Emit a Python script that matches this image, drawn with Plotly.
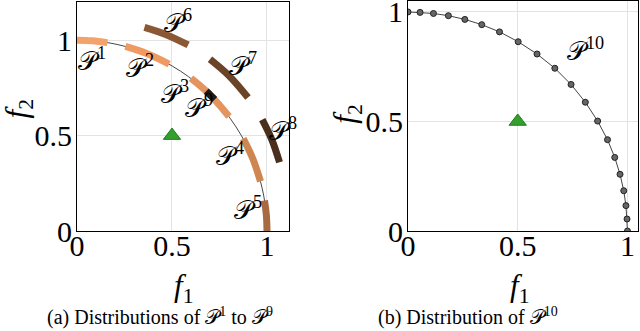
import plotly.graph_objects as go

# uniform points on the true front (panel b), also used as the reference curve
p10_x = [0.0, 0.055, 0.116, 0.184, 0.259, 0.336, 0.417, 0.502, 0.588, 0.669,
         0.743, 0.808, 0.864, 0.909, 0.942, 0.966, 0.983, 0.993, 0.998, 1.0]
p10_y = [1.0, 0.998, 0.993, 0.983, 0.966, 0.942, 0.909, 0.864, 0.808, 0.743,
         0.669, 0.588, 0.502, 0.417, 0.336, 0.259, 0.184, 0.116, 0.055, 0.0]

# distributions P1..P9 (start / middle / end)
seg_names = ['1', '2', '3', '4', '5', '6', '7', '8', '9']
seg_x = [[0.0, 0.08, 0.16], [0.255, 0.37, 0.485], [0.60, 0.70, 0.80],
         [0.875, 0.925, 0.966], [0.987, 0.997, 1.0], [0.355, 0.47, 0.585],
         [0.70, 0.80, 0.90], [0.975, 1.025, 1.066], [0.68, 0.702, 0.725]]
seg_y = [[1.0, 0.997, 0.987], [0.967, 0.929, 0.875], [0.80, 0.714, 0.60],
         [0.484, 0.38, 0.26], [0.16, 0.08, 0.0], [1.067, 1.029, 0.975],
         [0.90, 0.814, 0.70], [0.584, 0.48, 0.36], [0.733, 0.712, 0.689]]
seg_colors = ['#F4A26C', '#EF9A62', '#E4955F', '#CF8650', '#A96A42',
              '#8A5835', '#6B4428', '#4A2F1C', '#1C1C1C']
label_x = [0.08, 0.33, 0.515, 0.805, 0.90, 0.53, 0.875, 1.085, 0.64]
label_y = [0.90, 0.86, 0.725, 0.40, 0.12, 1.10, 0.87, 0.53, 0.65]

ref_point = [0.5, 0.5]
p10_label = [0.81, 0.83]

FONT = 'Liberation Serif, DejaVu Serif, serif'
P = '\U0001D4AB'

fig = go.Figure()

# panel (a)
fig.add_trace(go.Scatter(x=p10_x, y=p10_y, mode='lines', line=dict(color='#333333', width=0.9, shape='spline'),
                         xaxis='x', yaxis='y', showlegend=False))
for i in range(len(seg_names)):
    fig.add_trace(go.Scatter(x=seg_x[i], y=seg_y[i], mode='lines',
                             line=dict(color=seg_colors[i], width=7, shape='spline'),
                             xaxis='x', yaxis='y', showlegend=False))
fig.add_trace(go.Scatter(x=[ref_point[0]], y=[ref_point[1]], mode='markers',
                         marker=dict(symbol='triangle-up', size=15, color='#33a02c', line=dict(color='#1f7a1f', width=1)),
                         xaxis='x', yaxis='y', showlegend=False))

# panel (b)
fig.add_trace(go.Scatter(x=p10_x, y=p10_y, mode='lines+markers',
                         line=dict(color='#444444', width=1),
                         marker=dict(size=6, color='#666666', line=dict(color='#222222', width=1)),
                         xaxis='x2', yaxis='y2', showlegend=False))
fig.add_trace(go.Scatter(x=[ref_point[0]], y=[ref_point[1]], mode='markers',
                         marker=dict(symbol='triangle-up', size=15, color='#33a02c', line=dict(color='#1f7a1f', width=1)),
                         xaxis='x2', yaxis='y2', showlegend=False))

annotations = []
for i in range(len(seg_names)):
    annotations.append(dict(x=label_x[i], y=label_y[i], xref='x', yref='y', showarrow=False,
                            text=P + '<sup>' + seg_names[i] + '</sup>', font=dict(family=FONT, size=26, color='black')))
annotations.append(dict(x=p10_label[0], y=p10_label[1], xref='x2', yref='y2', showarrow=False,
                        text=P + '<sup>10</sup>', font=dict(family=FONT, size=26, color='black')))

# axis titles
title_font = dict(family=FONT, size=31, color='black')
for xc in [0.286, 0.812]:
    annotations.append(dict(x=xc, y=0.13, xref='paper', yref='paper', showarrow=False,
                            xanchor='center', yanchor='middle', text='<i>f</i><sub>1</sub>', font=title_font))
for xc, yc in [(0.03, 0.67), (0.543, 0.655)]:
    annotations.append(dict(x=xc, y=yc, xref='paper', yref='paper', showarrow=False, textangle=-90,
                            xanchor='center', yanchor='middle', text='<i>f</i><sub>2</sub>', font=title_font))

# captions
annotations.append(dict(x=0.25, y=0.045, xref='paper', yref='paper', showarrow=False,
                        xanchor='center', yanchor='middle',
                        text='(a) Distributions of ' + P + '<sup>1</sup> to ' + P + '<sup>9</sup>',
                        font=dict(family=FONT, size=20, color='black')))
annotations.append(dict(x=0.731, y=0.045, xref='paper', yref='paper', showarrow=False,
                        xanchor='center', yanchor='middle',
                        text='(b) Distribution of ' + P + '<sup>10</sup>',
                        font=dict(family=FONT, size=20, color='black')))

axis_style = dict(showgrid=True, gridcolor='#e3e3e3', gridwidth=1, zeroline=False,
                  showline=True, linecolor='black', linewidth=1, mirror=True, ticks='',
                  tickvals=[0, 0.5, 1], ticktext=['0', '0.5', '1'], automargin=False,
                  ticklabeloverflow='allow',
                  tickfont=dict(family=FONT, size=30, color='black'))

fig.update_layout(
    width=640, height=331,
    margin=dict(l=0, r=0, t=0, b=0),
    paper_bgcolor='white', plot_bgcolor='white',
    xaxis=dict(axis_style, domain=[0.1203, 0.4516], range=[0, 1.116], ticklabelstandoff=-12),
    yaxis=dict(axis_style, domain=[0.302, 0.994], range=[0, 1.2], ticklabelstandoff=-2),
    xaxis2=dict(axis_style, domain=[0.6375, 0.9969], range=[0, 1.048], anchor='y2', ticklabelstandoff=-12),
    yaxis2=dict(axis_style, domain=[0.302, 0.997], range=[0, 1.05], anchor='x2', ticklabelstandoff=-2),
    annotations=annotations,
)

fig.write_html("out.html", config={'displayModeBar': False},
               post_script="document.body.style.margin='0';")
